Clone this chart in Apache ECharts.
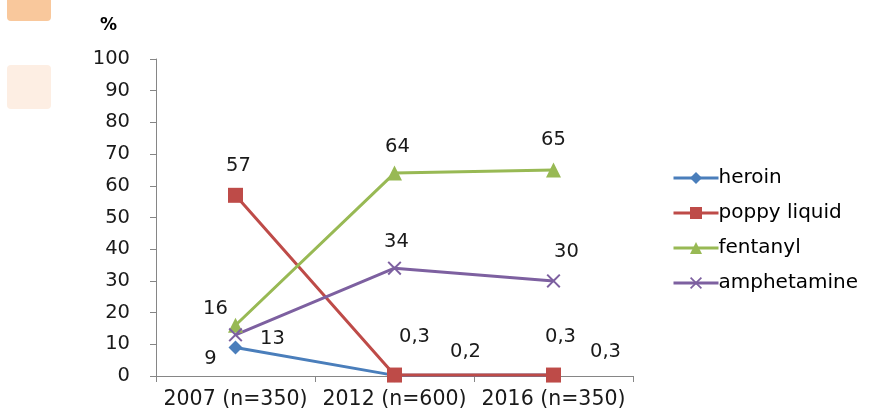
<!DOCTYPE html>
<html>
<head>
<meta charset="utf-8">
<script src="https://cdn.jsdelivr.net/npm/echarts@6/dist/echarts.min.js"></script>
<style>
  html, body { margin: 0; padding: 0; background: #ffffff; }
  #chart { width: 873px; height: 414px; }
</style>
</head>
<body>
<div id="chart"></div>
<script>
// Survey years (with sample sizes)
const categories = ['2007 (n=350)', '2012 (n=600)', '2016 (n=350)'];

// Share of respondents using each substance, %
const heroin = [9, 0.2, 0.3];
const poppyLiquid = [57, 0.3, 0.3];
const fentanyl = [16, 64, 65];
const amphetamine = [13, 34, 30];

// Value-axis ticks
const yTicks = [0, 10, 20, 30, 40, 50, 60, 70, 80, 90, 100];

const FONT = 'DejaVu Sans';
const fmt = v => String(v).replace('.', ',');

// Per-point label offsets so labels do not collide
function withLabels(values, offsets) {
  return values.map((v, i) => ({
    value: v,
    label: { offset: offsets[i] }
  }));
}

const crossPath = 'path://M0,1L1,0L5,4L9,0L10,1L6,5L10,9L9,10L5,6L1,10L0,9L4,5Z';

function series(name, data, color, symbol, size, offsets) {
  return {
    name: name,
    type: 'line',
    data: withLabels(data, offsets),
    symbol: symbol,
    symbolSize: size,
    showAllSymbol: true,
    lineStyle: { color: color, width: 3 },
    itemStyle: { color: color },
    label: {
      show: true,
      position: 'inside',
      color: '#1a1a1a',
      fontFamily: FONT,
      fontSize: 19.5,
      formatter: p => fmt(p.value)
    },
    emphasis: { disabled: true },
    z: 2
  };
}

const chart = echarts.init(document.getElementById('chart'));
chart.setOption({
  animation: false,
  backgroundColor: '#ffffff',
  title: {
    text: '%',
    left: 95,
    top: 12,
    textStyle: { fontFamily: FONT, fontSize: 17, fontWeight: 'bold', color: '#000' }
  },
  graphic: [
    { type: 'rect', shape: { x: 7, y: -10, width: 44, height: 31, r: 4 }, style: { fill: '#f9c89c' } },
    { type: 'rect', shape: { x: 7, y: 65, width: 44, height: 44, r: 4 }, style: { fill: '#fdeee3' } }
  ],
  grid: { left: 156, top: 59, width: 477, height: 317, containLabel: false },
  legend: {
    orient: 'vertical',
    left: 667,
    top: 163,
    itemWidth: 45,
    itemHeight: 15,
    itemGap: 15,
    lineStyle: { width: 3 },
    textStyle: { fontFamily: FONT, fontSize: 20, color: '#000', padding: [0, 0, 0, -5] },
    data: ['heroin', 'poppy liquid', 'fentanyl', 'amphetamine']
  },
  xAxis: {
    type: 'category',
    data: categories,
    boundaryGap: true,
    axisLine: { lineStyle: { color: '#868686', width: 1 } },
    axisTick: { show: true, length: 6, inside: false, lineStyle: { color: '#868686' } },
    axisLabel: { fontFamily: FONT, fontSize: 20.5, color: '#1a1a1a', margin: 13, interval: 0 }
  },
  yAxis: {
    type: 'value',
    min: 0,
    max: 100,
    interval: 10,
    splitLine: { show: false },
    axisLine: { show: true, lineStyle: { color: '#868686', width: 1 } },
    axisTick: { show: true, length: 6, lineStyle: { color: '#868686' } },
    axisLabel: {
      fontFamily: FONT, fontSize: 19.5, color: '#1a1a1a', margin: 26,
      formatter: v => (yTicks.includes(v) ? String(v) : '')
    }
  },
  series: [
    series('heroin', heroin, '#4a7ebb', 'diamond', 14,
      [[-25, 11], [71, -23], [52, -23]]),
    series('poppy liquid', poppyLiquid, '#be4b48', 'rect', 15,
      [[3, -29], [20, -38], [7, -38]]),
    series('fentanyl', fentanyl, '#98b954', 'triangle', 15,
      [[-20, -16], [3, -26], [0, -30]]),
    series('amphetamine', amphetamine, '#7d60a0', crossPath, 14,
      [[37, 4], [2, -26], [13, -29]])
  ]
});
</script>
</body>
</html>
